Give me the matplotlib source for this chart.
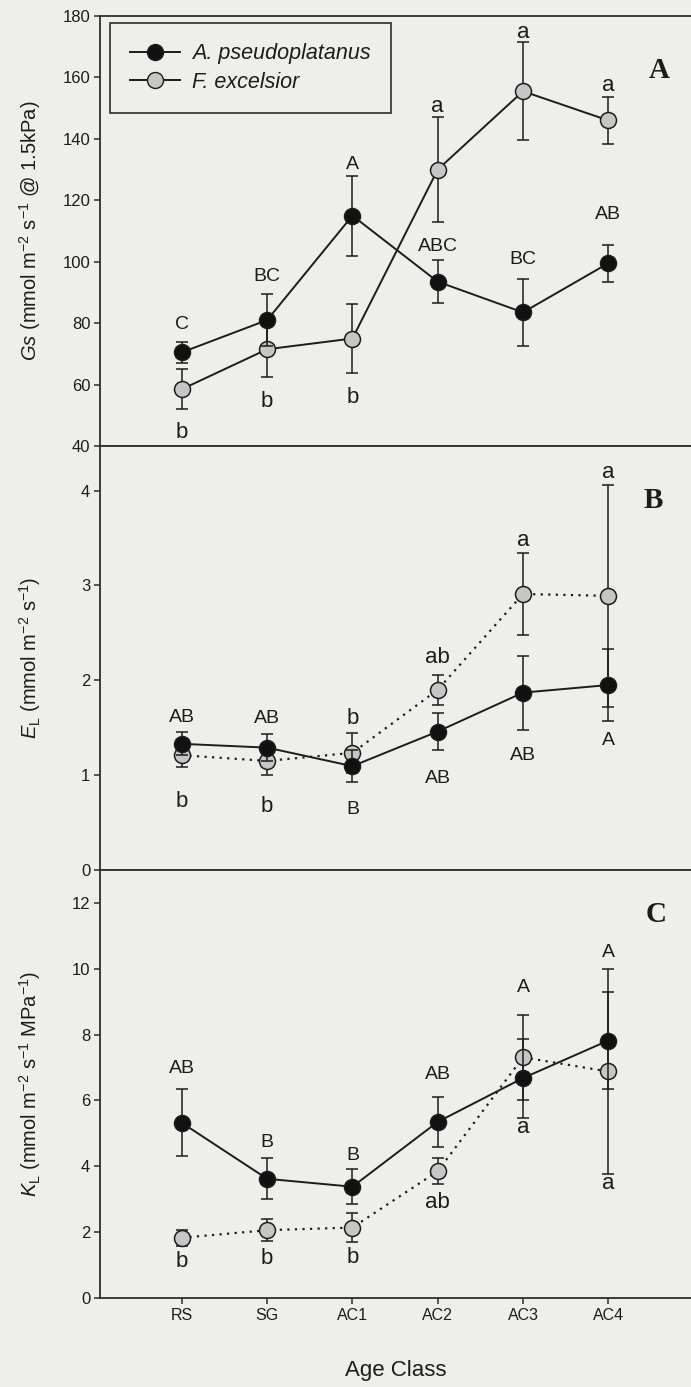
import matplotlib.pyplot as plt
import numpy as np
from matplotlib.lines import Line2D

plt.rcParams['font.family'] = ['Liberation Sans', 'DejaVu Sans']
plt.rcParams['mathtext.fontset'] = 'custom'
plt.rcParams['mathtext.rm'] = 'Liberation Sans'
plt.rcParams['mathtext.it'] = 'Liberation Sans:italic'

age_classes = ['RS', 'SG', 'AC1', 'AC2', 'AC3', 'AC4']

# (A) stomatal conductance at 1.5 kPa, mean and SE
gs_acer = [70.5, 81, 115, 93.5, 83.5, 99.5]
gs_acer_se = [3.5, 8.5, 13, 7, 11, 6]
gs_frax = [58.5, 71.5, 75, 130, 155.5, 146]
gs_frax_se = [6.5, 9, 11.3, 17, 16, 7.7]
gs_acer_letters = ['C', 'BC', 'A', 'ABC', 'BC', 'AB']
gs_frax_letters = ['b', 'b', 'b', 'a', 'a', 'a']

# (B) leaf-specific transpiration
el_acer = [1.33, 1.29, 1.095, 1.46, 1.87, 1.95]
el_acer_se = [0.12, 0.14, 0.17, 0.2, 0.39, 0.38]
el_frax = [1.21, 1.15, 1.235, 1.9, 2.91, 2.89]
el_frax_se = [0.12, 0.15, 0.21, 0.16, 0.43, 1.17]
el_acer_letters = ['AB', 'AB', 'B', 'AB', 'AB', 'A']
el_frax_letters = ['b', 'b', 'b', 'ab', 'a', 'a']

# (C) leaf-specific hydraulic conductance
kl_acer = [5.32, 3.62, 3.38, 5.35, 6.68, 7.82]
kl_acer_se = [1.02, 0.62, 0.53, 0.75, 1.2, 1.48]
kl_frax = [1.83, 2.06, 2.14, 3.85, 7.31, 6.88]
kl_frax_se = [0.25, 0.33, 0.43, 0.39, 1.3, 3.1]
kl_acer_letters = ['AB', 'B', 'B', 'AB', 'A', 'A']
kl_frax_letters = ['b', 'b', 'b', 'ab', 'a', 'a']

# letter placement: pixels away from the end of the error bar (+ above, - below)
offs_a = ([17, 17, 11, 14, 19, 30], [-23, -25, -24, 11, 10, 11])
offs_b = ([15, 16, -27, -28, -26, -19], [-35, -31, 14, 17, 13, 12])
offs_c = ([21, 16, 14, 23, 51, 39], [-16, -17, -16, -18, -27, -10])

BG = '#eeeeea'
INK = '#1c1c1c'
SPINE = '#2a302a'
GREY = '#c6c6c6'

W, H = 691, 1387
fig = plt.figure(figsize=(W / 100, H / 100), dpi=100, facecolor=BG)


def make_axes(top, bottom):
    ax = fig.add_axes([100 / W, 1 - bottom / H, 1 - 100 / W, (bottom - top) / H])
    ax.set_facecolor(BG)
    ax.spines['right'].set_visible(False)
    for s in ('left', 'bottom', 'top'):
        ax.spines[s].set_color(SPINE)
        ax.spines[s].set_linewidth(1.3)
    ax.tick_params(direction='out', length=4, width=1.1, color=SPINE,
                   labelsize=12, pad=3, labelcolor=INK)
    ax.set_xlim(-0.96, 5.97)
    ax.set_xticks(np.arange(len(age_classes)))
    return ax


def draw_panel(ax, acer, acer_se, frax, frax_se, letters, offs, dotted):
    x = np.arange(len(age_classes))
    ls = (0, (1, 2.4)) if dotted else '-'
    ax.errorbar(x, frax, yerr=frax_se, fmt='o', ls=ls, color=INK,
                lw=1.6 if dotted else 1.4,
                mfc=GREY, mec=INK, mew=1.1, ms=11.5, ecolor=INK,
                elinewidth=1.1, capsize=4.5, capthick=1.5, zorder=2)
    ax.errorbar(x, acer, yerr=acer_se, fmt='o', ls='-', color=INK, lw=1.4,
                mfc='#111111', mec=INK, mew=1.1, ms=11.5, ecolor=INK,
                elinewidth=1.1, capsize=4.5, capthick=1.5, zorder=3)
    for vals, se, labs, off in ((acer, acer_se, letters[0], offs[0]),
                                (frax, frax_se, letters[1], offs[1])):
        for i, (v, e, t, d) in enumerate(zip(vals, se, labs, off)):
            y = v + e if d > 0 else v - e
            size = 14 if t.isupper() else 16
            ax.annotate(t, (i, y), xytext=(0, d), textcoords='offset pixels',
                        ha='center', va='center', fontsize=size, color=INK)


ax_a = make_axes(16, 446)
ax_b = make_axes(446, 870)
ax_c = make_axes(870, 1298)

draw_panel(ax_a, gs_acer, gs_acer_se, gs_frax, gs_frax_se,
           (gs_acer_letters, gs_frax_letters), offs_a, False)
draw_panel(ax_b, el_acer, el_acer_se, el_frax, el_frax_se,
           (el_acer_letters, el_frax_letters), offs_b, True)
draw_panel(ax_c, kl_acer, kl_acer_se, kl_frax, kl_frax_se,
           (kl_acer_letters, kl_frax_letters), offs_c, True)

ax_a.set_ylim(40, 180)
ax_a.set_yticks(np.arange(40, 181, 20))
ax_b.set_ylim(0, 4.47)
ax_b.set_yticks(np.arange(0, 5))
ax_c.set_ylim(0, 13)
ax_c.set_yticks(np.arange(0, 13, 2))

for ax in (ax_a, ax_b):
    ax.tick_params(labelbottom=False)
ax_c.set_xticklabels(age_classes, fontsize=11.5)
ax_c.set_xlabel('Age Class', fontsize=16, color=INK, labelpad=27)

ylabels = [r'$\mathit{Gs}$ (mmol m$^{-2}$ s$^{-1}$ @ 1.5kPa)',
           r'$E_\mathrm{L}$ (mmol m$^{-2}$ s$^{-1}$)',
           r'$K_\mathrm{L}$ (mmol m$^{-2}$ s$^{-1}$ MPa$^{-1}$)']
for ax, lab in zip((ax_a, ax_b, ax_c), ylabels):
    ax.set_ylabel(lab, fontsize=14.5, color=INK, va='center')
    ax.yaxis.set_label_coords(-70 / 591, 0.5)

for lab, (px, py) in zip('ABC', [(659, 70), (653, 500), (656, 915)]):
    fig.text(px / W, 1 - py / H, lab, family=['Liberation Serif', 'DejaVu Serif'],
             fontweight='bold', fontsize=21, ha='center', va='center', color=INK)

handles = [
    Line2D([], [], color=INK, lw=1.4, marker='o', ms=11.5, mfc='#111111', mec=INK),
    Line2D([], [], color=INK, lw=1.4, marker='o', ms=11.5, mfc=GREY, mec=INK),
]
leg = ax_a.legend(handles, ['A. pseudoplatanus', 'F. excelsior'],
                  loc='upper left', bbox_to_anchor=(10 / 591, 1 - 7 / 430),
                  borderaxespad=0, fancybox=False, framealpha=1, facecolor=BG,
                  edgecolor=SPINE, borderpad=0.95, labelspacing=0.35,
                  handlelength=2.3, handletextpad=0.55,
                  prop={'style': 'italic', 'size': 15.5})
leg.get_frame().set_linewidth(1.2)
for t in leg.get_texts():
    t.set_color(INK)

fig.savefig('out.png', dpi=100, facecolor=BG)
